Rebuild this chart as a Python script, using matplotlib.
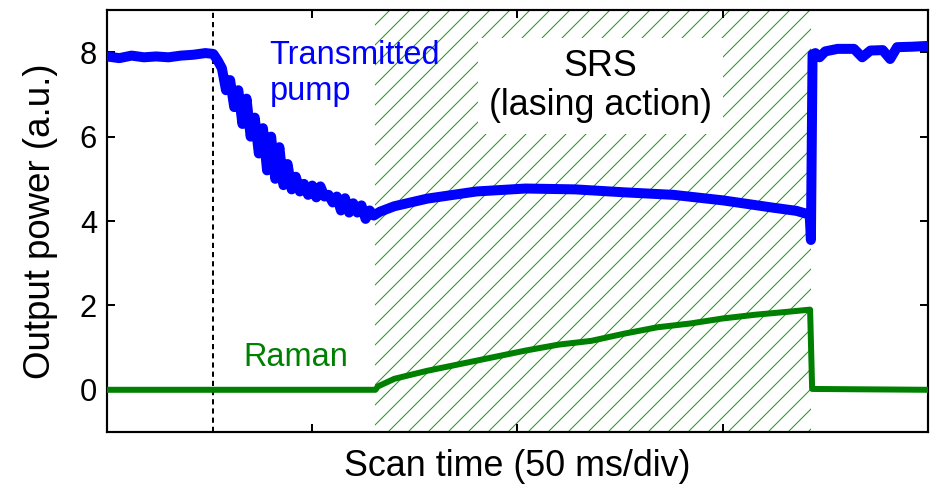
import matplotlib
matplotlib.use("Agg")
import matplotlib.pyplot as plt

# Scan time (ms) and detected powers (a.u.)
pump_t = [0, 3, 6, 9, 12, 15, 18, 21, 24, 25.9,
          27, 28, 29, 30, 31, 32, 33, 34, 35, 36, 37, 38, 39, 40, 41, 42, 43, 44,
          45, 46, 47, 48, 49, 50, 51, 52, 53, 54, 55, 56, 57, 58, 59, 60, 61, 62,
          63, 64, 65,
          66.5, 70, 78, 90, 102, 114, 126, 138, 150, 162, 168, 171.2, 171.5, 171.9,
          172.6, 173.6, 175, 178, 182, 184, 186, 189, 190.8, 192.5, 196, 200]
pump_v = [7.90, 7.86, 7.92, 7.88, 7.90, 7.88, 7.92, 7.94, 7.98, 7.96,
          7.80, 7.62, 7.10, 7.34, 6.70, 7.10, 6.30, 6.90, 6.00, 6.45, 5.60, 6.20,
          5.20, 6.00, 5.00, 5.75, 4.85, 5.35, 4.75, 5.05, 4.70, 4.88, 4.62, 4.84,
          4.56, 4.82, 4.58, 4.62, 4.44, 4.58, 4.25, 4.54, 4.20, 4.42, 4.20, 4.37,
          4.05, 4.25, 4.13,
          4.22, 4.35, 4.53, 4.70, 4.77, 4.75, 4.68, 4.62, 4.49, 4.32, 4.24, 4.15, 3.55, 7.95,
          7.98, 7.88, 8.02, 8.08, 8.08, 7.88, 8.04, 8.05, 7.84, 8.12, 8.13, 8.15]

raman_t = [0, 65.4, 66, 70, 78, 86, 94, 102, 110, 118, 126, 134, 142, 150,
           158, 166, 171.3, 171.8, 200]
raman_v = [0.0, 0.0, 0.08, 0.26, 0.45, 0.61, 0.77, 0.93, 1.07, 1.16, 1.33, 1.48,
           1.57, 1.69, 1.78, 1.85, 1.90, 0.02, 0.0]

scan_start = 25.9          # dashed marker, start of the frequency scan
srs_window = (65.4, 171.5)  # where stimulated Raman lasing occurs

plt.rcParams["font.family"] = ["Liberation Sans", "DejaVu Sans"]
plt.rcParams["hatch.linewidth"] = 0.6
plt.rcParams["hatch.color"] = "#1a9a1a"

fig = plt.figure(figsize=(935 / 120, 485 / 120), dpi=120)
ax = fig.add_axes([0.1144, 0.1093, 0.878, 0.870])

# Hatched SRS window
ax.axvspan(*srs_window, facecolor="none", edgecolor="#1a9a1a", hatch="//",
           linewidth=0, zorder=1)
ax.axvline(scan_start, color="black", lw=1.2, dashes=(2.6, 2), zorder=2)

ax.plot(pump_t, pump_v, color="blue", lw=6, solid_joinstyle="round", zorder=3)
ax.plot(raman_t, raman_v, color="green", lw=3.6, solid_joinstyle="round", zorder=3)

ax.text(39.6, 8.28, "Transmitted\npump", color="blue", fontsize=19.5,
        ha="left", va="top", linespacing=1.18, zorder=4)
ax.text(33.2, 0.76, "Raman", color="green", fontsize=19.5,
        ha="left", va="center", zorder=4)
ax.text(120.2, 7.2, "SRS\n(lasing action)", color="black", fontsize=21.5,
        ha="center", va="center", linespacing=1.15, zorder=4,
        bbox=dict(boxstyle="square,pad=0.3", facecolor="white", edgecolor="none"))

ax.set_xlim(0, 200)
ax.set_ylim(-1, 9)
ax.set_xticks([50, 100, 150])
ax.set_xticklabels([])
ax.set_yticks([0, 2, 4, 6, 8])
ax.tick_params(direction="in", length=5, width=1.2, top=True, right=True,
               labelsize=18.5, pad=6)
for spine in ax.spines.values():
    spine.set_linewidth(1.3)

ax.set_xlabel("Scan time (50 ms/div)", fontsize=21.5, labelpad=4)
ax.set_ylabel("Output power (a.u.)", fontsize=22, labelpad=13)

fig.savefig("out.png", dpi=120)
